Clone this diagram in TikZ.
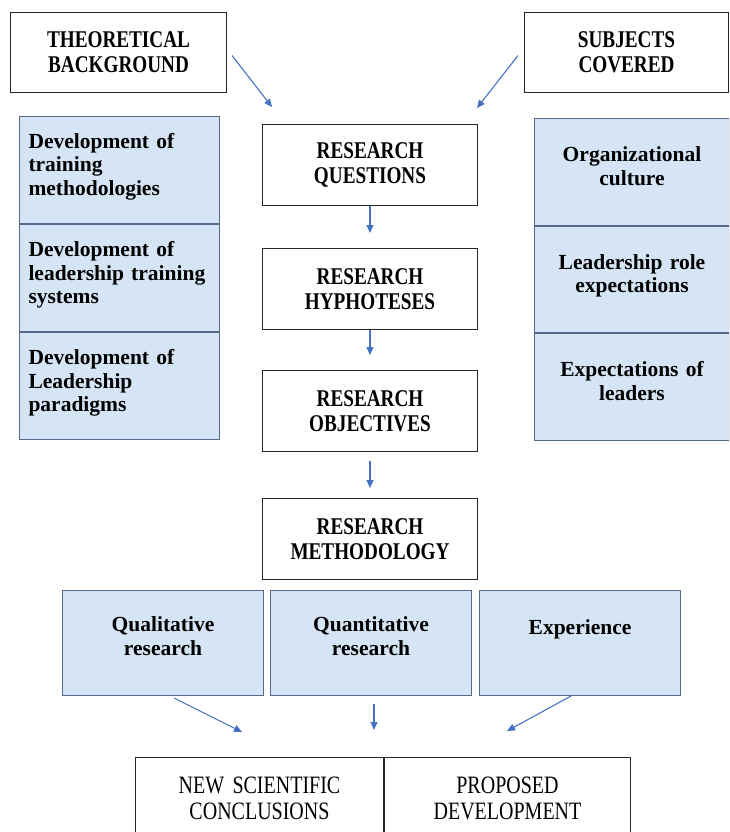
\documentclass[tikz,border=0pt]{standalone}
\usepackage{fontspec}
\setmainfont{Liberation Serif}
\newfontfamily\capfont[FakeStretch=0.8]{Liberation Serif}
\usepackage{tikz}
\usetikzlibrary{positioning, arrows.meta}
\definecolor{boxfill}{RGB}{213,229,245}
\definecolor{boxedge}{RGB}{88,106,140}
\definecolor{arrowblue}{RGB}{70,114,196}
\newcommand{\hdfont}{\capfont\bfseries\fontsize{24}{25}\selectfont}
\newcommand{\ftfont}{\capfont\fontsize{25}{25.5}\selectfont}
\newcommand{\blfont}{\bfseries\fontsize{21.5}{23.5}\selectfont}
\tikzstyle{wb}=[%
      rectangle, draw=black!85, line width=1pt, fill=white,
      font=\hdfont, align=center, inner sep=0pt, minimum width=215pt, minimum height=81pt
]
\tikzstyle{bb}=[%
      rectangle, draw=boxedge, line width=1pt, fill=boxfill,
      font=\blfont, inner xsep=9pt, inner ysep=0pt, text height=32pt, text depth=75pt
]
\tikzstyle{ft}=[%
      rectangle, draw=black!85, line width=1pt, fill=white,
      font=\ftfont, align=center, inner xsep=9pt, inner ysep=0pt, text height=36pt, text depth=64pt
]

\begin{document}
\begin{tikzpicture}[x=1pt, y=-1pt,
    every edge/.style={draw=arrowblue, line width=1.1pt},
    -{Triangle[length=8pt,width=7pt]},
    lcol/.style={bb, text width=182pt, align=left},
    rcol/.style={bb, text width=177pt, align=center, text height=43pt, text depth=63.5pt},
    mcol/.style={bb, text width=183pt, align=center, text height=41pt, text depth=64pt}
  ]
    \clip (0,0) rectangle (729,832);

    \node[wb, anchor=north west, minimum width=216pt, minimum height=80pt] (theory) at (10,12) {THEORETICAL\\BACKGROUND};
    \node[wb, anchor=north west, minimum width=204pt, minimum height=80pt] (subjects) at (524,12) {SUBJECTS\\COVERED};

    \node[wb, anchor=north west] (questions) at (262,124) {RESEARCH\\QUESTIONS};
    \node[wb] (hypotheses) [below = 42pt of questions] {RESEARCH\\HYPHOTESES};
    \node[wb] (objectives) [below = 40pt of hypotheses] {RESEARCH\\OBJECTIVES};
    \node[wb] (methodology) [below = 46pt of objectives] {RESEARCH\\METHODOLOGY};

    \node[lcol, anchor=north west] (training) at (19,116) {Development of\\training\\methodologies};
    \node[lcol] (systems) [below = 0pt of training] {Development of\\leadership training\\systems};
    \node[lcol] (paradigms) [below = 0pt of systems] {Development of\\Leadership\\paradigms};

    \node[rcol, anchor=north west] (culture) at (534,118) {Organizational\\culture};
    \node[rcol] (roles) [below = 0pt of culture] {Leadership role\\expectations};
    \node[rcol] (leaders) [below = 0pt of roles] {Expectations of\\leaders};

    \node[mcol, anchor=north west] (qual) at (62,590) {Qualitative\\research};
    \node[mcol] (quant) [right = 6pt of qual] {Quantitative\\research};
    \node[mcol, text height=44pt, text depth=61pt] (exper) [right = 7pt of quant] {Experience};

    \node[ft, anchor=north west, text width=230pt] (conclusions) at (135,757) {NEW SCIENTIFIC\\CONCLUSIONS};
    \node[ft, text width=228pt] (development) [right = 0pt of conclusions] {PROPOSED\\DEVELOPMENT};

    \coordinate (tbend) at (272,107);
    \coordinate (scend) at (477,108);
    \coordinate (qlend) at (242,732);
    \coordinate (qnend) at (374,730);
    \coordinate (exend) at (507,731);

    \path ([xshift=5pt,yshift=-3pt]theory.east) edge (tbend)
          ([xshift=-6pt,yshift=-3pt]subjects.west) edge (scend)
          (questions.south) edge[shorten >=15pt] (hypotheses.north)
          (hypotheses.south) edge[shorten >=15pt] (objectives.north)
          (objectives.south) edge[shorten <=9pt, shorten >=10pt] (methodology.north)
          ([xshift=11pt,yshift=-2pt]qual.south) edge (qlend)
          ([xshift=3pt,yshift=-8pt]quant.south) edge (qnend)
          ([xshift=-9pt]exper.south) edge (exend)
    ;

\end{tikzpicture}
\end{document}
